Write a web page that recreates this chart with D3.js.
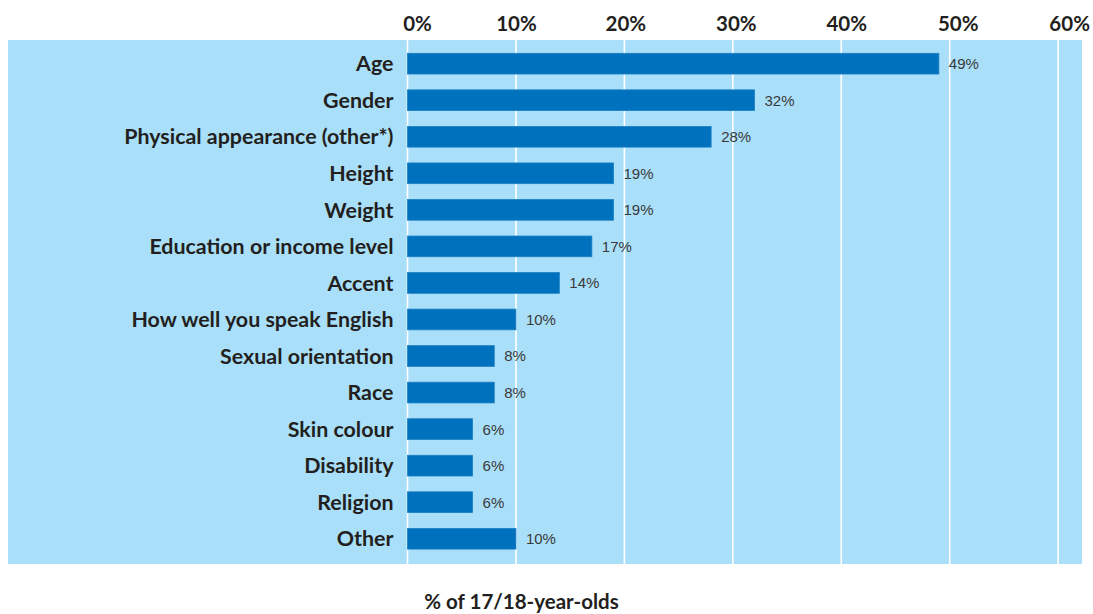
<!DOCTYPE html>
<html>
<head>
<meta charset="utf-8">
<script src="https://cdn.jsdelivr.net/npm/d3@7"></script>
<style>
  html, body { margin: 0; padding: 0; background: #fff; }
  svg { display: block; }
  .cat { font-family: Lato, "Open Sans", sans-serif; font-weight: 700; font-size: 21.4px; fill: #231f20; }
  .tick-label { font-family: Lato, "Open Sans", sans-serif; font-weight: 700; font-size: 20.5px; fill: #231f20; }
  .val { font-family: "Liberation Sans", Arial, sans-serif; font-size: 15px; fill: #3a3a3a; }
  .title { font-family: Lato, "Open Sans", sans-serif; font-weight: 700; font-size: 20.5px; fill: #231f20; }
</style>
</head>
<body>
<svg id="chart" width="1093" height="614"></svg>
<script>
// Reasons 17/18-year-olds reported being treated unfairly
const categories = [
  "Age", "Gender", "Physical appearance (other*)", "Height", "Weight",
  "Education or income level", "Accent", "How well you speak English",
  "Sexual orientation", "Race", "Skin colour", "Disability", "Religion", "Other"
];
const values = [49, 32, 28, 19, 19, 17, 14, 10, 8, 8, 6, 6, 6, 10];
const tickValues = [0, 10, 20, 30, 40, 50, 60];
const axisTitle = "% of 17/18-year-olds";

const svg = d3.select("#chart");

const panel = { left: 8, right: 1082, top: 40, bottom: 564 };

const x = d3.scaleLinear().domain([0, 62.2]).range([407.5, panel.right]);
const y = d3.scaleBand()
  .domain(categories)
  .range([45.4, 557])
  .paddingInner(0.433)
  .paddingOuter(0.2165);

// background panel
svg.append("rect")
  .attr("x", panel.left).attr("y", panel.top)
  .attr("width", panel.right - panel.left)
  .attr("height", panel.bottom - panel.top)
  .attr("fill", "#aadff9");

// vertical gridlines
svg.append("g").selectAll("line")
  .data(tickValues)
  .join("line")
  .attr("x1", d => x(d)).attr("x2", d => x(d))
  .attr("y1", panel.top).attr("y2", panel.bottom)
  .attr("stroke", "#fff")
  .attr("stroke-width", 1.6);

// top axis labels
const axis = d3.axisTop(x).tickValues(tickValues).tickFormat(d => d + "%").tickSize(0);
const gAxis = svg.append("g").attr("transform", "translate(0,31)").call(axis);
gAxis.select(".domain").remove();
gAxis.selectAll("text")
  .attr("class", "tick-label")
  .attr("y", 0).attr("dy", 0)
  .attr("dx", (d, i) => [9.5, 0, 1, 3, 5, 8, 11][i])
  .attr("font-family", null).attr("font-size", null).attr("fill", null);

// bars
svg.append("g").selectAll("rect")
  .data(values)
  .join("rect")
  .attr("x", x(0))
  .attr("y", (d, i) => y(categories[i]))
  .attr("width", d => x(d) - x(0))
  .attr("height", y.bandwidth())
  .attr("fill", "#0071bc")
  .attr("stroke", "#1a80c4")
  .attr("stroke-width", 0.8);

// value labels
svg.append("g").selectAll("text")
  .data(values)
  .join("text")
  .attr("class", "val")
  .attr("x", d => x(d) + 10)
  .attr("y", (d, i) => y(categories[i]) + y.bandwidth() / 2)
  .attr("dy", "0.36em")
  .text(d => d + "%");

// category labels
svg.append("g").selectAll("text")
  .data(categories)
  .join("text")
  .attr("class", "cat")
  .attr("x", 393.5)
  .attr("y", d => y(d) + y.bandwidth() / 2)
  .attr("dy", "0.36em")
  .attr("text-anchor", "end")
  .text(d => d);

// axis title
svg.append("text")
  .attr("class", "title")
  .attr("x", 521.5)
  .attr("y", 609)
  .attr("text-anchor", "middle")
  .text(axisTitle);
</script>
</body>
</html>
